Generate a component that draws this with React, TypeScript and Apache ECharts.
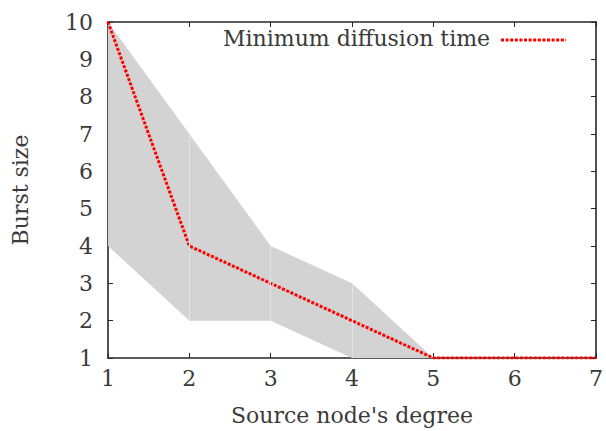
import React, { useEffect, useRef } from "react";
import * as echarts from "echarts";

const degrees = ["1", "2", "3", "4", "5", "6", "7"];
const minTime = [10, 4, 3, 2, 1, 1, 1];
const lowerBound = [4, 2, 2, 1, 1, 1, 1];
const upperBound = [10, 7, 4, 3, 1, 1, 1];
const legendLabel = "Minimum diffusion time";

const FONT = "DejaVu Serif";
const TXT = "#3a3a3a";
const FS = 22;

export default function App() {
  const ref = useRef<HTMLDivElement>(null);
  useEffect(() => {
    if (!ref.current) return;
    const chart = echarts.init(ref.current, undefined, { renderer: "svg" });
    const spanData = upperBound.map((u, i) => u - lowerBound[i]);
    const seams = degrees
      .map((d, i) => ({ d, lo: lowerBound[i], hi: upperBound[i] }))
      .filter((s, i) => i > 0 && i < degrees.length - 1 && s.hi > s.lo)
      .map((s) => [{ coord: [s.d, s.lo] }, { coord: [s.d, s.hi] }]);
    const axisLine = { show: true, lineStyle: { color: "#262626", width: 1.6 } };
    const axisTick = { show: true, inside: true, length: 5, alignWithLabel: true, lineStyle: { color: "#262626", width: 1 } };
    chart.setOption({
      animation: false,
      backgroundColor: "#fff",
      textStyle: { fontFamily: FONT },
      grid: { left: 108, right: 10, top: 22, bottom: 71 },
      graphic: [
        {
          type: "text",
          x: 223,
          y: 38,
          style: { text: legendLabel, fontFamily: FONT, fontSize: FS, fill: TXT, verticalAlign: "middle" },
          z: 10,
        },
        {
          type: "line",
          shape: { x1: 501, y1: 40, x2: 566, y2: 40 },
          style: { stroke: "#ff0000", lineWidth: 3, lineDash: [3, 1.6] },
          z: 10,
        },
      ],
      xAxis: [
        {
          type: "category",
          data: degrees,
          boundaryGap: false,
          name: "Source node's degree",
          nameLocation: "middle",
          nameGap: 46,
          nameTextStyle: { fontFamily: FONT, fontSize: FS, color: TXT },
          axisLine,
          axisTick,
          splitLine: { show: false },
          axisLabel: { fontFamily: FONT, fontSize: FS, color: TXT, margin: 9 },
        },
        {
          type: "category",
          data: degrees,
          boundaryGap: false,
          position: "top",
          axisLine,
          axisTick,
          splitLine: { show: false },
          axisLabel: { show: false },
        },
      ],
      yAxis: [
        {
          type: "value",
          min: 1,
          max: 10,
          interval: 1,
          name: "Burst size",
          nameLocation: "middle",
          nameGap: 77,
          nameTextStyle: { fontFamily: FONT, fontSize: FS, color: TXT },
          axisLine,
          axisTick,
          splitLine: { show: false },
          axisLabel: { fontFamily: FONT, fontSize: FS, color: TXT, margin: 15 },
        },
        {
          type: "value",
          position: "right",
          min: 1,
          max: 10,
          interval: 1,
          axisLine,
          axisTick,
          splitLine: { show: false },
          axisLabel: { show: false },
        },
      ],
      series: [
        {
          name: "lower",
          type: "line",
          stack: "band",
          data: lowerBound,
          symbol: "none",
          lineStyle: { opacity: 0 },
          silent: true,
          z: 1,
        },
        {
          name: "span",
          type: "line",
          stack: "band",
          data: spanData,
          symbol: "none",
          lineStyle: { opacity: 0 },
          areaStyle: { color: "#d3d3d3", opacity: 1 },
          silent: true,
          z: 1,
          markLine: {
            silent: true,
            symbol: "none",
            label: { show: false },
            lineStyle: { color: "#e3e3e3", width: 1, type: "solid" },
            data: seams,
          },
        },
        {
          name: legendLabel,
          type: "line",
          data: minTime,
          symbol: "none",
          itemStyle: { color: "#ff0000" },
          lineStyle: { color: "#ff0000", width: 3, type: [3, 1.6] },
          z: 3,
        },
      ],
    });
    return () => chart.dispose();
  }, []);
  return (
    <div
      ref={ref}
      style={{ position: "fixed", left: 0, top: 0, width: 606, height: 431 }}
    />
  );
}
